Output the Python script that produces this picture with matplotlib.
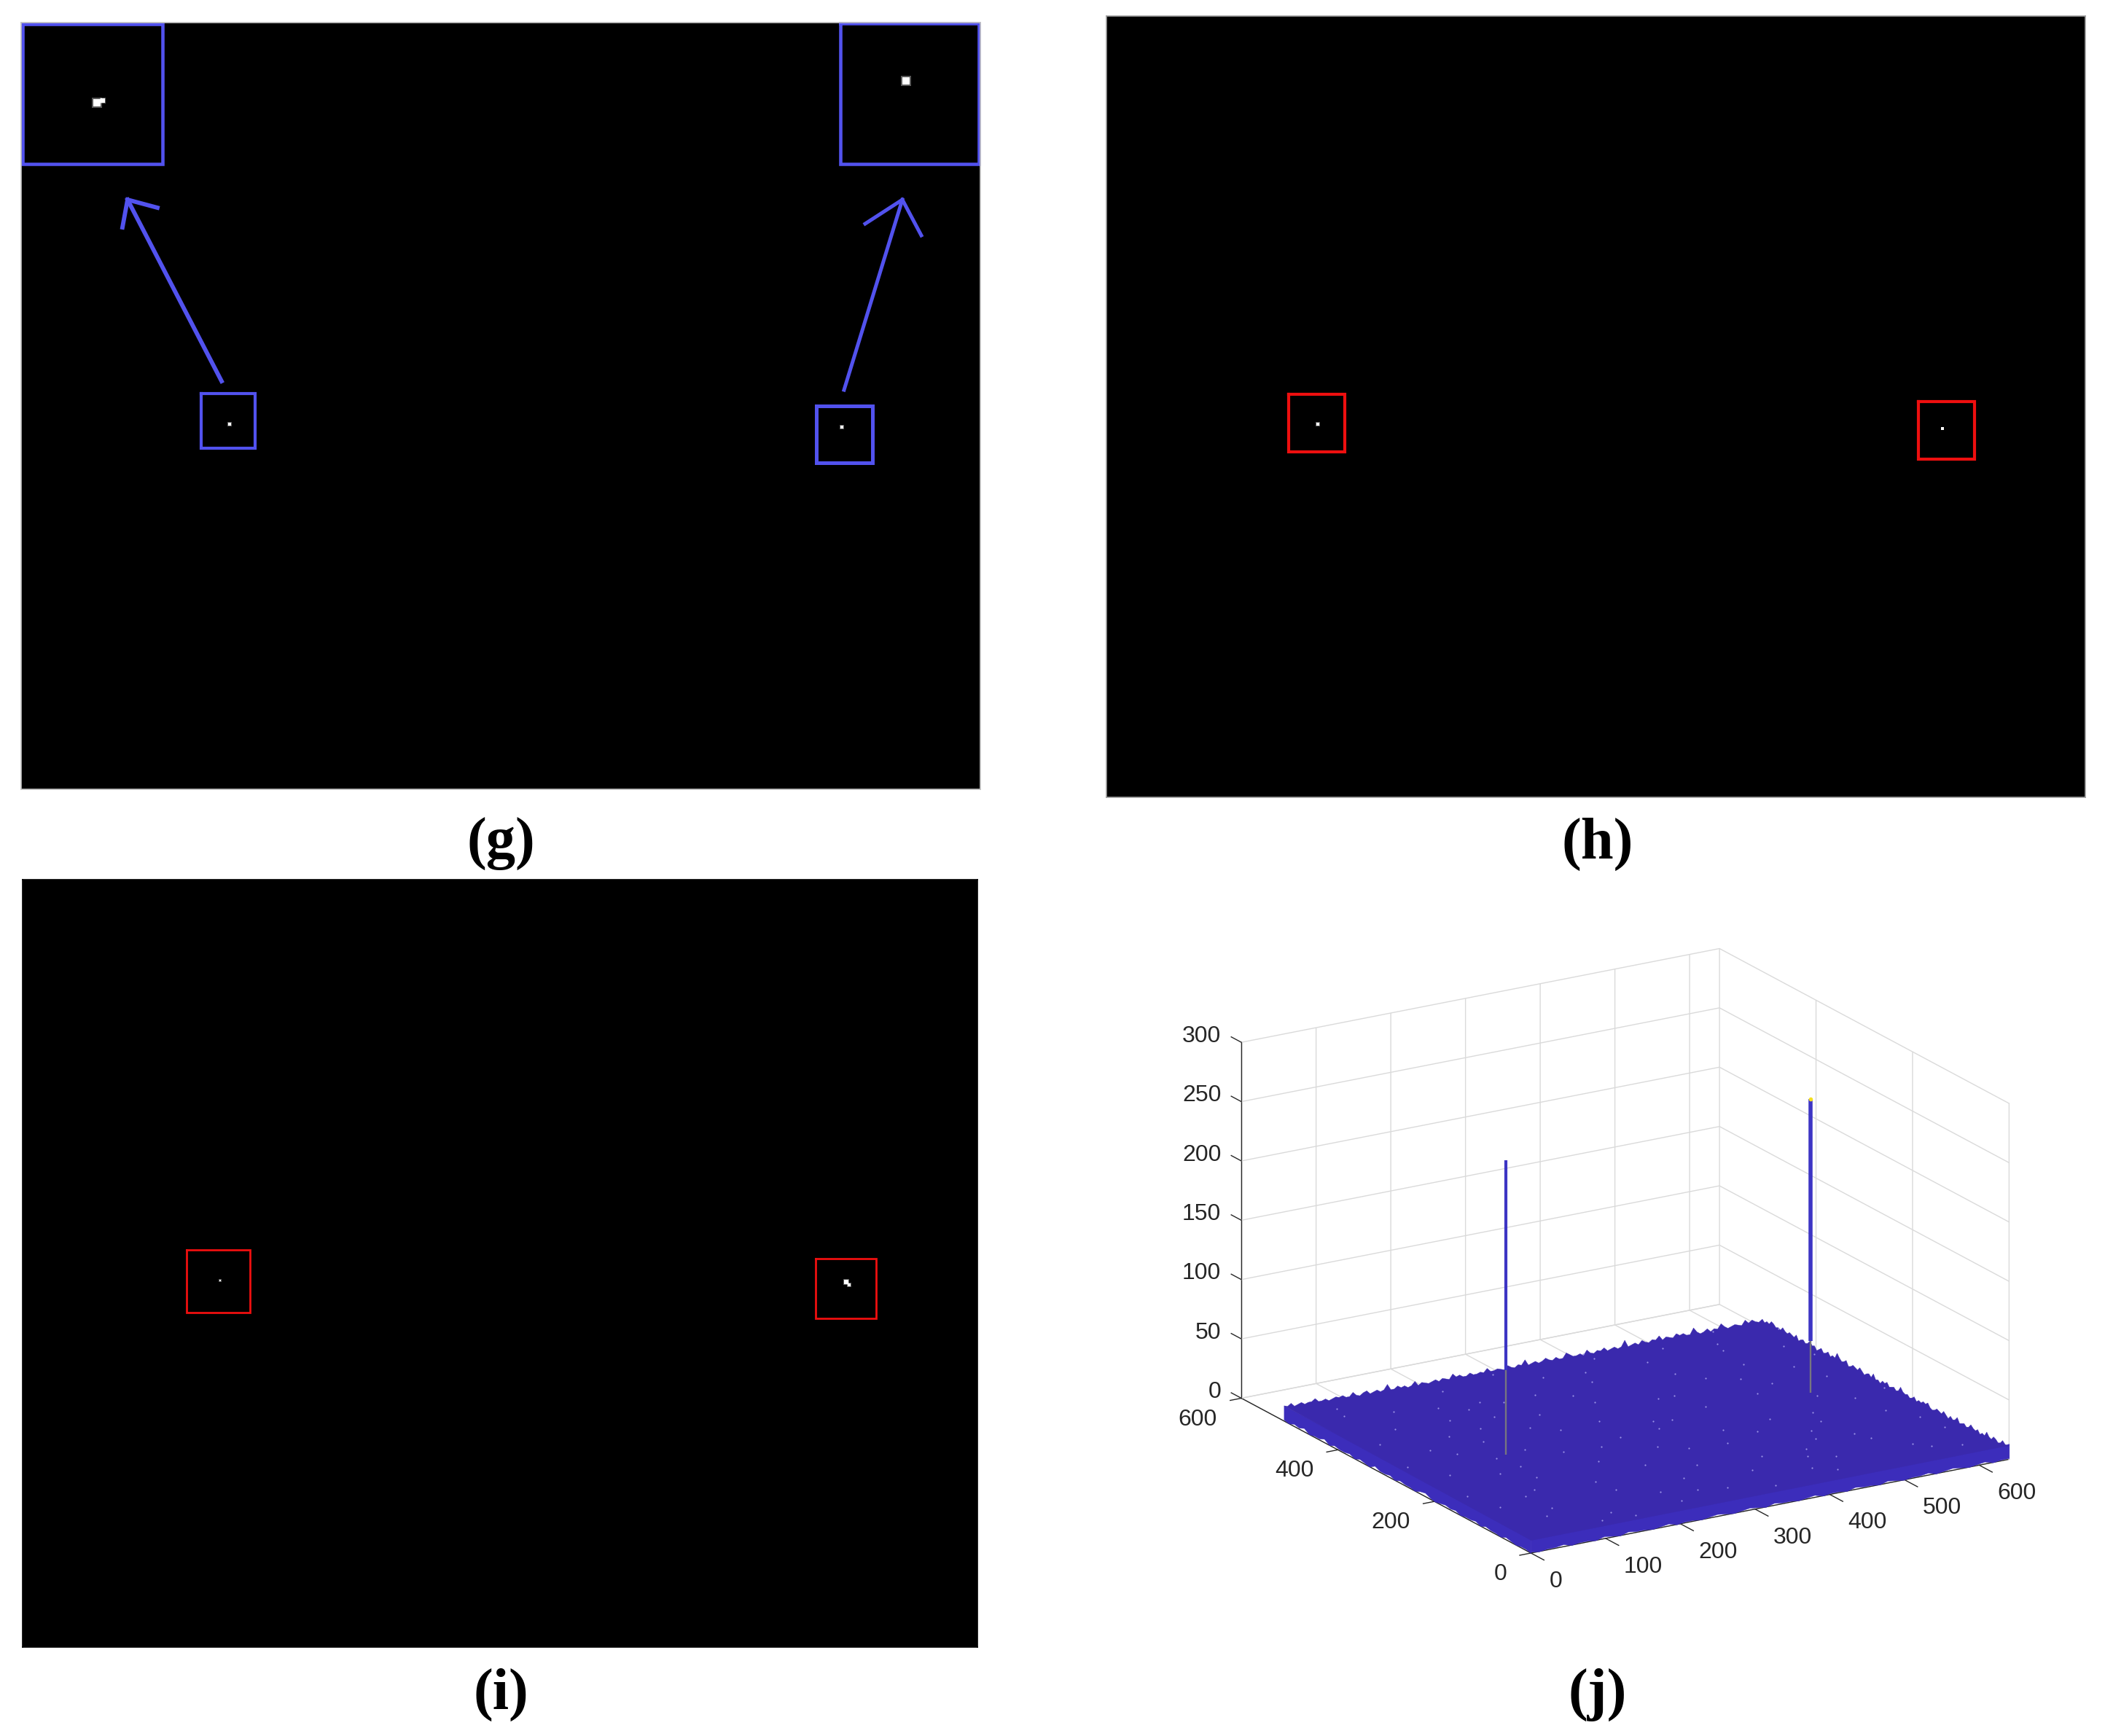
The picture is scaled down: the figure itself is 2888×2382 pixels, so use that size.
import numpy as np
import matplotlib
matplotlib.use("Agg")
import matplotlib.pyplot as plt
from matplotlib.ticker import NullFormatter
from mpl_toolkits.mplot3d import proj3d
from mpl_toolkits.mplot3d.art3d import Poly3DCollection

W, H = 2888, 2382
BLUE = "#5252ee"
RED = "#ee0f0f"
PLATE = "#3a29ad"
WALL = "#3c2dbb"
TEXT = "#262626"

# panels (g), (h), (i): left, right, top, bottom in picture pixels
panel_g = (29, 1345, 31, 1083)
panel_h = (1518, 2861, 22, 1094)
panel_i = (31, 1341, 1207, 2260)

# boxes: x0, x1, y0, y1
g_boxes = [(31, 223, 33, 225), (1153, 1343, 32, 225), (276, 350, 540, 615), (1120, 1197, 557, 635)]
g_box_lw = [3.3, 3.3, 3.0, 3.6]
h_boxes = [(1768, 1845, 541, 620), (2632, 2709, 551, 630)]
i_boxes = [(256, 343, 1715, 1801), (1119, 1202, 1727, 1809)]

# arrows: tail, tip, barb 1, barb 2
g_arrows = [
    [(304, 523), (175, 274), (168, 312), (216, 285)],
    [(1158, 535), (1238, 274), (1187, 307), (1264, 323)],
]
g_arrow_lw = [4.2, 3.6]

# bright targets
g_spot_x = [133, 141, 1243, 315, 1155]
g_spot_y = [141, 138, 111, 582, 586]
g_spot_s = [60, 20, 50, 8, 8]
h_spot_x = [1808, 2665]
h_spot_y = [582, 588]
h_spot_s = [8, 6]
i_spot_x = [302, 1161, 1165]
i_spot_y = [1757, 1759, 1763]
i_spot_s = [4, 18, 12]

# panel (j)
x_ticks = [0, 100, 200, 300, 400, 500, 600]
y_ticks = [0, 200, 400, 600]
z_ticks = [0, 50, 100, 150, 200, 250, 300]
x_max = 640
plate_y_max = 512
plate_level = 11
spike_x = [156, 567]
spike_y = [293, 298]
spike_top = [248, 248]
spike_grey_top = [71, 44]
spike_width = [3.0, 4.0]

edge_back_right = [12, 10, 11, 13, 10, 9, 11, 12, 9, 10, 13, 9, 10, 8, 11, 9, 10, 12, 9, 8,
                   10, 9, 8, 12, 9, 8, 10, 7, 9, 11, 8, 9, 10, 8, 7, 8, 11, 9, 10, 8,
                   9, 7, 10, 8, 7, 9, 8, 9, 12, 8, 7, 9, 8, 7, 10, 8, 9, 6, 8, 7,
                   11, 7, 9, 8, 6, 8, 10, 7, 8, 9, 7, 6, 10, 8, 7, 9, 12, 7, 8, 6,
                   9, 7, 6, 9, 7, 5, 8, 7, 10, 7, 6, 8, 7, 5, 9, 6, 7, 8, 6, 7,
                   9, 6, 7, 6, 8, 9, 6, 7, 5, 7]
edge_back_left = [7, 5, 6, 8, 6, 9, 5, 6, 7, 6, 5, 7, 10, 6, 7, 5, 8, 6, 5, 7,
                  11, 6, 6, 8, 7, 9, 6, 7, 8, 6, 10, 7, 8, 6, 7, 9, 6, 8, 7, 6,
                  12, 7, 6, 8, 7, 6, 9, 7, 8, 6, 7, 10, 6, 8, 7, 7, 9, 11, 7, 7,
                  9, 7, 8, 10, 8, 7, 9, 8, 7, 12, 8, 9, 7, 8, 10, 7, 8, 9, 8, 8,
                  11, 8, 9, 8, 8, 10, 8, 8, 10, 9, 12, 8, 9, 10, 8, 10, 9, 8, 9, 10,
                  8, 12, 9, 8, 10, 9, 11, 9, 9, 14, 10, 9, 11, 10, 9, 12, 11, 9, 10, 13,
                  10, 10, 12, 11, 12, 11, 10, 12, 11, 11, 14, 12, 12, 11, 13, 12, 11, 14, 12, 13]
edge_bottom_right = [1, 1, 0, 2, 1, 0, 1, 2, 1, 0, 2, 1, 1, 0, 1, 2, 0, 1, 1, 2,
                     0, 1, 1, 0, 2, 1, 0, 1, 1, 2, 0, 1, 2, 1, 0, 1, 2, 1, 0, 1,
                     1, 0, 2, 1, 0, 1, 1, 2, 0, 1, 2, 0, 1, 1, 0, 2, 1, 1, 0, 1]
edge_bottom_left = [1, 0, 2, 1, 3, 0, 1, 1, 3, 0, 2, 1, 1, 2, 0, 2, 1, 0, 3, 1,
                    1, 2, 0, 2, 1, 1, 0, 2, 3, 1, 0, 1, 2, 1, 2, 0, 1, 1, 2, 0,
                    2, 1, 1, 0, 2, 1, 0, 1, 1, 0]

speck_x = [60, 95, 130, 175, 210, 255, 300, 345, 390, 430, 475, 520, 565, 40, 85, 120, 160, 205, 240,
           285, 330, 370, 415, 455, 500, 545, 585, 70, 110, 150, 190, 230, 270, 315, 360, 405, 445,
           490, 535, 575, 50, 100, 140, 185, 225, 265, 310, 350, 395, 440, 480, 530, 560, 30, 80,
           125, 170, 215, 250, 295, 340, 380, 425, 465, 510, 550, 590, 65, 115, 155, 612, 625, 603,
           18, 27, 148, 276, 322, 407, 468, 523, 606, 91, 203, 358, 436, 577, 12, 44, 237, 289, 392,
           501, 618, 133, 178, 263, 337, 452, 541, 597, 75, 220, 305, 384, 512, 630, 106, 193, 421]
speck_y = [60, 140, 35, 95, 185, 50, 120, 75, 205, 30, 155, 100, 45, 230, 285, 175, 260, 320, 225,
           300, 245, 165, 280, 210, 340, 250, 170, 390, 340, 425, 370, 295, 410, 355, 445, 330, 390,
           290, 430, 345, 480, 440, 385, 470, 405, 490, 455, 415, 480, 440, 470, 380, 490, 110, 80,
           215, 130, 65, 150, 195, 20, 110, 85, 130, 205, 60, 300, 310, 250, 345, 90, 235, 410,
           160, 355, 12, 242, 172, 48, 362, 310, 132, 205, 420, 262, 105, 222, 275, 455, 350, 40,
           498, 175, 370, 305, 405, 90, 268, 68, 452, 30, 128, 28, 385, 330, 122, 462, 16, 232, 182]

labels = ["(g)", "(h)", "(i)", "(j)"]
label_x = [687, 2192, 687, 2192]
label_y = [1158, 1158, 2325, 2325]

plt.rcParams["font.family"] = ["Liberation Sans", "DejaVu Sans"]
plt.rcParams["grid.color"] = "#dadada"
plt.rcParams["grid.linewidth"] = 1.0

fig = plt.figure(figsize=(W / 100, H / 100), dpi=100, facecolor="white")


def add_panel(box, edge):
    x0, x1, y0, y1 = box
    ax = fig.add_axes([x0 / W, 1 - y1 / H, (x1 - x0) / W, (y1 - y0) / H])
    ax.set_facecolor("black")
    ax.set_xlim(x0, x1)
    ax.set_ylim(y1, y0)
    ax.set_xticks([])
    ax.set_yticks([])
    for s in ax.spines.values():
        s.set_color(edge)
        s.set_linewidth(1.2)
    return ax


def draw_box(ax, b, color, lw):
    ax.plot([b[0], b[1], b[1], b[0], b[0]], [b[2], b[2], b[3], b[3], b[2]],
            color=color, lw=lw, solid_joinstyle="miter", clip_on=False)


def draw_spots(ax, xs, ys, sizes):
    # soft halo under a bright core, the targets are blurred in the original
    ax.scatter(xs, ys, s=[v * 1.9 for v in sizes], c="white", alpha=0.35, marker="s", linewidths=0)
    ax.scatter(xs, ys, s=sizes, c="white", marker="s", linewidths=0)


# (g)
ax_g = add_panel(panel_g, "#c4c4c4")
for b, lw in zip(g_boxes, g_box_lw):
    draw_box(ax_g, b, BLUE, lw)
for (tail, tip, barb1, barb2), lw in zip(g_arrows, g_arrow_lw):
    ax_g.plot([tail[0], tip[0]], [tail[1], tip[1]], color=BLUE, lw=lw)
    ax_g.plot([barb1[0], tip[0], barb2[0]], [barb1[1], tip[1], barb2[1]], color=BLUE, lw=lw,
              solid_joinstyle="miter")
draw_spots(ax_g, g_spot_x, g_spot_y, g_spot_s)

# (h)
ax_h = add_panel(panel_h, "#a0a0a0")
for b in h_boxes:
    draw_box(ax_h, b, RED, 3.0)
draw_spots(ax_h, h_spot_x, h_spot_y, h_spot_s)

# (i)
ax_i = add_panel(panel_i, "black")
for b in i_boxes:
    draw_box(ax_i, b, RED, 2.0)
draw_spots(ax_i, i_spot_x, i_spot_y, i_spot_s)

# (j)
ax_j = fig.add_axes([1631 / W, 67 / H, 1166 / W, 1166 / H], projection="3d", proj_type="ortho")
ax_j.patch.set_alpha(0)
ax_j.set_box_aspect((1, 1, 0.673))
ax_j.view_init(elev=18.9, azim=-121.2)
ax_j.computed_zorder = False
ax_j.set_xlim(0, x_max)
ax_j.set_ylim(0, 600)
ax_j.set_zlim(0, 300)
ax_j.set_xticks(x_ticks)
ax_j.set_yticks(y_ticks)
ax_j.set_zticks([])
ax_j.xaxis.set_major_formatter(NullFormatter())
ax_j.yaxis.set_major_formatter(NullFormatter())
for axis in (ax_j.xaxis, ax_j.yaxis, ax_j.zaxis):
    axis.set_pane_color((1, 1, 1, 0))
    axis.pane.set_edgecolor("#dadada")
    axis.line.set_color(TEXT)
    axis.line.set_linewidth(1.0)
    axis._axinfo["tick"]["outward_factor"] = 0.0
    axis._axinfo["tick"]["inward_factor"] = 0.0

# ticks and labels by hand, mplot3d cannot place them the way the original has them
proj = ax_j.get_proj()


def tick_label(x, y, z, text, dx, dy, ha):
    px, py, _ = proj3d.proj_transform(x, y, z, proj)
    ax_j.annotate(text, (px, py), xytext=(dx, dy), textcoords="offset points", ha=ha, va="center",
                  fontsize=23, color=TEXT, annotation_clip=False)


for z in z_ticks:
    ax_j.plot([0, x_max, x_max], [600, 600, 0], [z, z, z], color="#dadada", lw=1.0, zorder=1)
    ax_j.plot([0, 0], [600, 621], [z, z], color=TEXT, lw=1.0, zorder=1)
    tick_label(0, 600, z, str(z), -20, 6, "right")
for v in x_ticks:
    ax_j.plot([v, v], [0, -27], [0, 0], color=TEXT, lw=1.0, zorder=1)
    tick_label(v, 0, 0, str(v), 18, -28, "left")
for v in y_ticks:
    ax_j.plot([0, -15], [v, v], [0, 0], color=TEXT, lw=1.0, zorder=1)
    tick_label(0, v, 0, str(v), -24, -21, "right")

n_br, n_bl = len(edge_back_right), len(edge_back_left)
n_fr, n_fl = len(edge_bottom_right), len(edge_bottom_left)
br = list(zip(np.full(n_br, x_max), np.linspace(0, plate_y_max, n_br), edge_back_right))
bl = list(zip(np.linspace(x_max, 0, n_bl), np.full(n_bl, plate_y_max), edge_back_left))
top_face = [(0, 0, plate_level)] + br + bl
wall_top = plate_level + 2
wall_fr = [(0, 0, wall_top), (x_max, 0, wall_top)] + list(zip(np.linspace(x_max, 0, n_fr), np.zeros(n_fr), edge_bottom_right))
wall_fl = [(0, 0, wall_top), (0, plate_y_max, wall_top)] + list(zip(np.zeros(n_fl), np.linspace(plate_y_max, 0, n_fl), edge_bottom_left))

ax_j.add_collection3d(Poly3DCollection([wall_fr], facecolor=WALL, edgecolor=WALL, linewidths=0.3,
                                       zorder=5, shade=False))
ax_j.add_collection3d(Poly3DCollection([wall_fl], facecolor=WALL, edgecolor=WALL, linewidths=0.3,
                                       zorder=5, shade=False))
ax_j.add_collection3d(Poly3DCollection([top_face], facecolor=PLATE, edgecolor=PLATE, linewidths=0.3,
                                       zorder=6, shade=False))
ax_j.scatter(speck_x, speck_y, np.full(len(speck_x), plate_level), s=2.5, c="#9a92e6", depthshade=False,
             linewidths=0, zorder=7)

for sx, sy, top, grey, lw in zip(spike_x, spike_y, spike_top, spike_grey_top, spike_width):
    ax_j.plot([sx, sx], [sy, sy], [grey, top], color="#3d35c4", lw=lw, zorder=8, solid_capstyle="butt")
    ax_j.plot([sx, sx], [sy, sy], [0, grey], color="#77757f", lw=1.7, zorder=8, solid_capstyle="butt")
# yellow tip on the right peak
ax_j.plot([spike_x[1]], [spike_y[1]], [spike_top[1]], marker="o", ms=3, color="#f5e020", zorder=9)

for lab, lx, ly in zip(labels, label_x, label_y):
    fig.text(lx / W, 1 - ly / H, lab, ha="center", va="center", fontsize=58,
             family="Liberation Serif", fontweight="bold", color="black")

fig.savefig("out.png", dpi=100, facecolor="white")
